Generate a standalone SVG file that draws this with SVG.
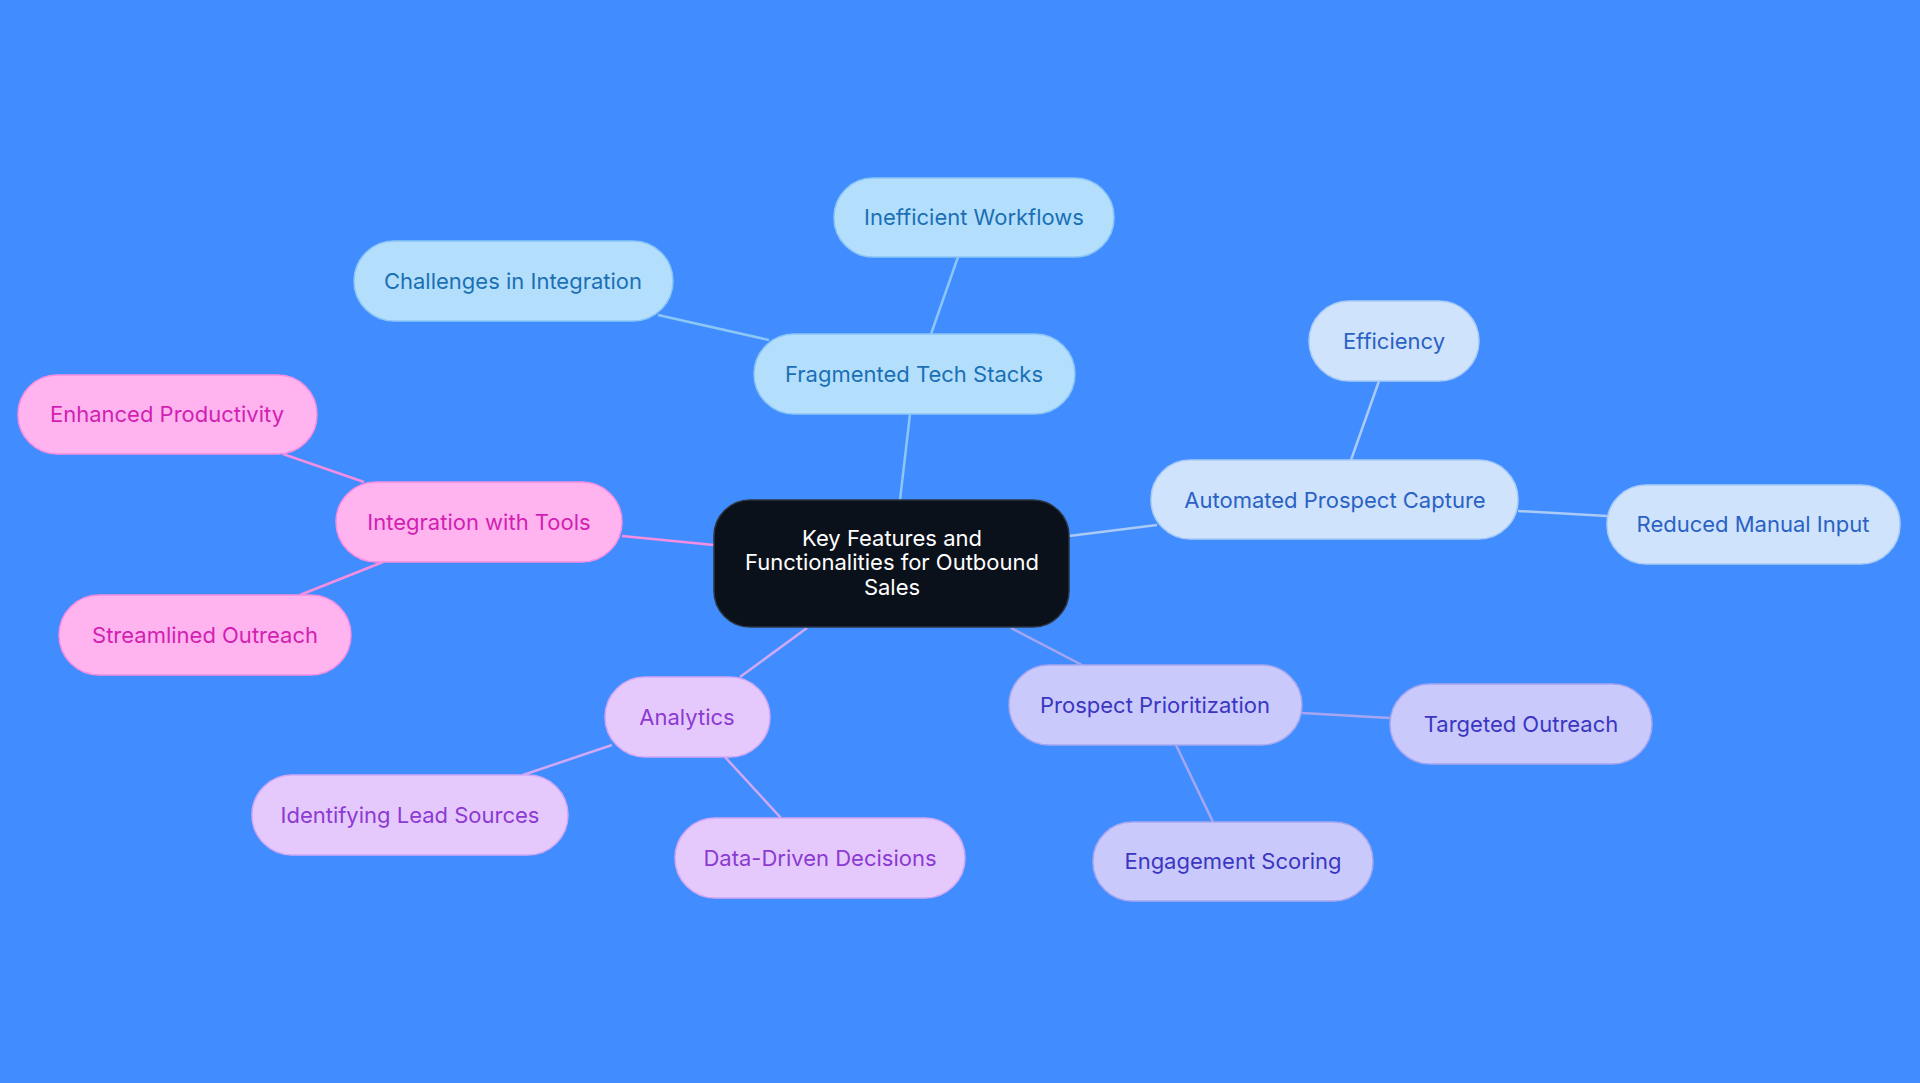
<svg xmlns="http://www.w3.org/2000/svg" width="1920" height="1083" viewBox="0 0 1920 1083">
<style>
text{font-family:Inter,"Noto Sans",sans-serif;font-size:22px;text-anchor:middle;dominant-baseline:central}
.b rect{fill:#b3dffc;stroke:#8cc6f5;stroke-width:1.5}.b text{fill:#1b6fb5}
.c rect{fill:#cfe3fc;stroke:#a9cbf5;stroke-width:1.5}.c text{fill:#2a62c4}
.p rect{fill:#c9c9fc;stroke:#a6a6f0;stroke-width:1.5}.p text{fill:#3a36c2}
.v rect{fill:#e6c9fc;stroke:#d0a8f5;stroke-width:1.5}.v text{fill:#8b3ad2}
.k rect{fill:#ffb3ef;stroke:#f58ee0;stroke-width:1.5}.k text{fill:#d21fb2}
#conn line{stroke-width:2.5}
</style>
<rect width="1920" height="1083" fill="#418dff"/>
<g id="conn">
<line x1="900" y1="500" x2="910" y2="414" stroke="#8cc6f5"/>
<line x1="931" y1="334" x2="958" y2="257" stroke="#8cc6f5"/>
<line x1="769" y1="340" x2="658" y2="315" stroke="#8cc6f5"/>
<line x1="1069" y1="536" x2="1157" y2="525" stroke="#a9cbf5"/>
<line x1="1351" y1="460" x2="1379" y2="381" stroke="#a9cbf5"/>
<line x1="1518" y1="511" x2="1607" y2="516" stroke="#a9cbf5"/>
<line x1="1011" y1="628" x2="1082" y2="665" stroke="#a6a6f0"/>
<line x1="1302" y1="713" x2="1390" y2="718" stroke="#a6a6f0"/>
<line x1="1176" y1="745" x2="1213" y2="822" stroke="#a6a6f0"/>
<line x1="807" y1="628" x2="740" y2="677" stroke="#d0a8f5"/>
<line x1="612" y1="745" x2="523" y2="775" stroke="#d0a8f5"/>
<line x1="725" y1="757" x2="781" y2="818" stroke="#d0a8f5"/>
<line x1="714" y1="545" x2="622" y2="536" stroke="#f58ee0"/>
<line x1="364" y1="482" x2="283" y2="454" stroke="#f58ee0"/>
<line x1="383" y1="562" x2="300" y2="595" stroke="#f58ee0"/>
</g>
<g id="center"><rect x="714" y="500" width="355" height="127" rx="36" fill="#0b111b" stroke="#2b3440" stroke-width="1.5"/>
<text x="892" y="538" fill="#fff" font-size="21">Key Features and</text>
<text x="892" y="562" fill="#fff" font-size="21">Functionalities for Outbound</text>
<text x="892" y="587" fill="#fff" font-size="21">Sales</text></g>
<g id="fts" class="b"><rect x="754" y="334" width="321" height="80" rx="40"/><text x="914" y="374">Fragmented Tech Stacks</text></g>
<g id="iw" class="b"><rect x="834" y="178" width="280" height="79" rx="39"/><text x="974" y="217">Inefficient Workflows</text></g>
<g id="ci" class="b"><rect x="354" y="241" width="319" height="80" rx="40"/><text x="513" y="281">Challenges in Integration</text></g>
<g id="apc" class="c"><rect x="1151" y="460" width="367" height="79" rx="39"/><text x="1335" y="500">Automated Prospect Capture</text></g>
<g id="eff" class="c"><rect x="1309" y="301" width="170" height="80" rx="40"/><text x="1394" y="341">Efficiency</text></g>
<g id="rmi" class="c"><rect x="1607" y="485" width="293" height="79" rx="39"/><text x="1753" y="524">Reduced Manual Input</text></g>
<g id="pp" class="p"><rect x="1009" y="665" width="293" height="80" rx="40"/><text x="1155" y="705">Prospect Prioritization</text></g>
<g id="to" class="p"><rect x="1390" y="684" width="262" height="80" rx="40"/><text x="1521" y="724">Targeted Outreach</text></g>
<g id="es" class="p"><rect x="1093" y="822" width="280" height="79" rx="39"/><text x="1233" y="861">Engagement Scoring</text></g>
<g id="an" class="v"><rect x="605" y="677" width="165" height="80" rx="40"/><text x="687" y="717">Analytics</text></g>
<g id="ils" class="v"><rect x="252" y="775" width="316" height="80" rx="40"/><text x="410" y="815">Identifying Lead Sources</text></g>
<g id="ddd" class="v"><rect x="675" y="818" width="290" height="80" rx="40"/><text x="820" y="858">Data-Driven Decisions</text></g>
<g id="iwt" class="k"><rect x="336" y="482" width="286" height="80" rx="40"/><text x="479" y="522">Integration with Tools</text></g>
<g id="ep" class="k"><rect x="18" y="375" width="299" height="79" rx="39"/><text x="167" y="414">Enhanced Productivity</text></g>
<g id="so" class="k"><rect x="59" y="595" width="292" height="80" rx="40"/><text x="205" y="635">Streamlined Outreach</text></g>
</svg>
